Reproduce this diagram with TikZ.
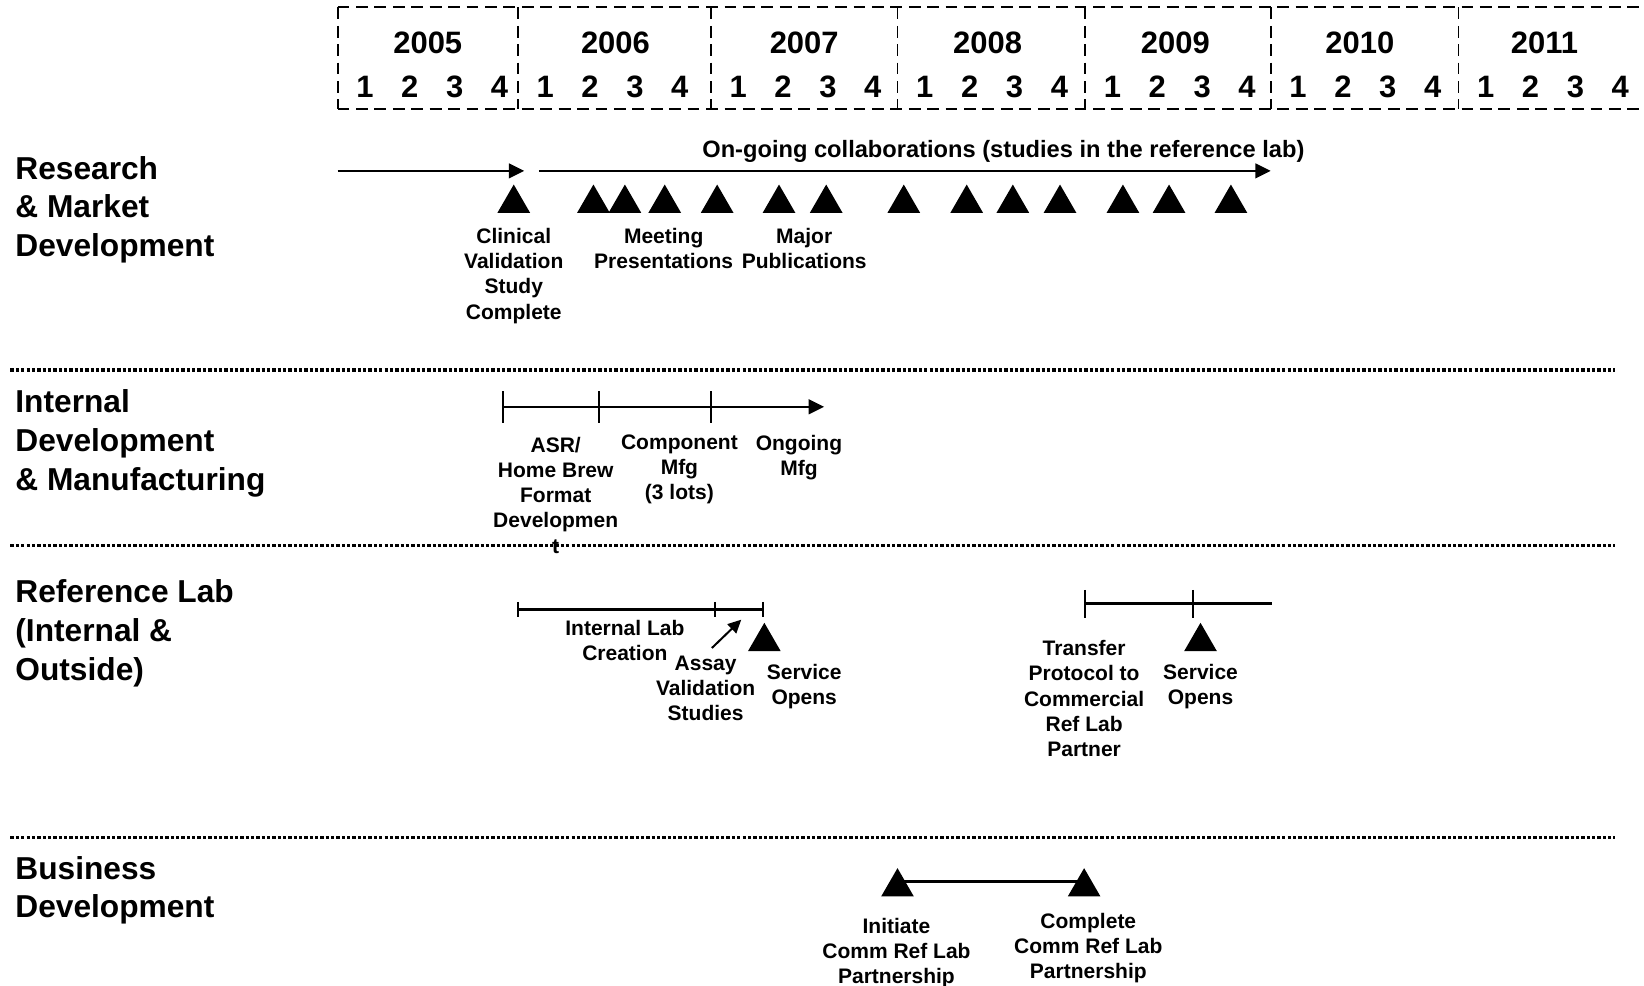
\documentclass[tikz,border=0pt]{standalone}
\usepackage{fontspec}
\setmainfont{Liberation Sans}
\usetikzlibrary{shapes,arrows.meta,calc}

\tikzset{
  yearbox/.style={line width=0.5pt, dash pattern=on 3.2pt off 1.8pt},
  rowsep/.style={line width=0.9pt, dash pattern=on 0.9pt off 0.55pt},
  year/.style={font=\fontsize{8.4}{10}\selectfont\bfseries, inner sep=0pt},
  rowlbl/.style={font=\fontsize{8.6}{10.5}\selectfont\bfseries, align=left, anchor=west, inner sep=0pt},
  lbl/.style={font=\fontsize{5.7}{6.85}\selectfont\bfseries, align=center, anchor=north, inner sep=0pt},
  tri/.style={regular polygon, regular polygon sides=3, fill=black, minimum size=0.36cm, inner sep=0pt},
  tl/.style={line width=0.55pt},
  tlthick/.style={line width=0.8pt},
  arr/.style={-{Triangle[length=4.2pt,width=4pt]}},
}

\begin{document}
\begin{tikzpicture}
    \useasboundingbox (0,0) rectangle (15.68,9.40);
    % years and quarters
    \draw [yearbox] (3.22,9.33) -- (15.75,9.33);
    \draw [yearbox] (3.22,8.36) -- (15.75,8.36);
    \foreach \yr/\xa/\xl in {2005/3.22/4.08, 2006/4.94/5.87, 2007/6.78/7.67, 2008/8.56/9.42, 2009/10.35/11.21, 2010/12.12/12.97, 2011/13.91/14.73} {
      \draw [yearbox] (\xa,9.33) -- (\xa,8.36);
      \node [year] (y\yr) at (\xl,8.99) {\yr};
      \foreach \q in {1,...,4}
        \node [year] (q\yr\q) at ({\xa+0.26+(\q-1)*0.428},8.57) {\q};
    }
    % row titles
    \node [rowlbl] (rm) at (0.14,7.40) {Research\\\& Market\\Development};
    \node [rowlbl] (idm) at (0.14,5.17) {Internal\\Development\\\& Manufacturing};
    \node [rowlbl] (rl) at (0.14,3.36) {Reference Lab\\(Internal \&\\Outside)};
    \node [rowlbl] (bd) at (0.14,0.91) {Business\\Development};
    \draw [rowsep] (0.10,5.87) -- (15.40,5.87);
    \draw [rowsep] (0.10,4.20) -- (15.40,4.20);
    \draw [rowsep] (0.10,1.41) -- (15.40,1.41);

    % research & market development
    \coordinate (rmA) at (3.22,7.77);
    \coordinate (rmB) at (5.00,7.77);
    \coordinate (rmC) at (5.14,7.77);
    \coordinate (rmD) at (12.12,7.77);
    \draw [tl,arr] (rmA) -- (rmB);
    \draw [tl,arr] (rmC) -- (rmD);
    \node [font=\fontsize{6.42}{7.5}\selectfont\bfseries, inner sep=0pt] (ongo) at (9.57,7.955) {On-going collaborations (studies in the reference lab)};
    \foreach \x [count=\i] in {4.90,5.66,5.96,6.34,6.84,7.43,7.88,8.62,9.22,9.66,10.11,10.71,11.15,11.74}
      \node [tri] (ev\i) at (\x,7.46) {};
    \node [lbl] (clin) at (4.90,7.23) {Clinical\\Validation\\Study\\Complete};
    \node [lbl] (meet) at (6.33,7.23) {Meeting\\Presentations};
    \node [lbl] (pubs) at (7.67,7.23) {Major\\Publications};

    % internal development & manufacturing
    \coordinate (mfA) at (4.80,5.52);
    \coordinate (mfB) at (5.71,5.52);
    \coordinate (mfC) at (6.78,5.52);
    \coordinate (mfD) at (7.86,5.52);
    \draw [tl,arr] (mfA) -- (mfD);
    \foreach \c in {mfA,mfB,mfC}
      \draw [tl] ($(\c)+(0,0.15)$) -- ($(\c)+(0,-0.15)$);
    \node [lbl] (asr) at (5.30,5.24) {ASR/\\Home Brew\\Format\\Developmen\\t};
    \node [lbl] (comp) at (6.48,5.26) {Component\\Mfg\\(3 lots)};
    \node [lbl] (ongm) at (7.62,5.26) {Ongoing\\Mfg};

    % reference lab, internal
    \coordinate (lbA) at (4.94,3.59);
    \coordinate (lbB) at (6.82,3.59);
    \coordinate (lbC) at (7.28,3.59);
    \draw [tlthick] (lbA) -- (lbC);
    \foreach \c in {lbA,lbB,lbC}
      \draw [tl] ($(\c)+(0,0.07)$) -- ($(\c)+(0,-0.07)$);
    \node [tri] (svA) at (7.29,3.28) {};
    \node [lbl] (intl) at (5.96,3.49) {Internal Lab\\Creation};
    \node [lbl] (assay) at (6.73,3.15) {Assay\\Validation\\Studies};
    \node [lbl] (opA) at (7.67,3.07) {Service\\Opens};
    \coordinate (avTail) at (6.79,3.22);
    \coordinate (avTip) at (7.07,3.49);
    \draw [tl,-{Triangle[length=3.6pt,width=3.4pt]}] (avTail) -- (avTip);

    % reference lab, outside
    \coordinate (crA) at (10.35,3.64);
    \coordinate (crB) at (11.38,3.64);
    \coordinate (crC) at (12.13,3.64);
    \draw [tlthick] (crA) -- (crC);
    \foreach \c in {crA,crB}
      \draw [tl] ($(\c)+(0,0.135)$) -- ($(\c)+(0,-0.135)$);
    \node [tri] (svB) at (11.45,3.28) {};
    \node [lbl] (xfer) at (10.34,3.30) {Transfer\\Protocol to\\Commercial\\Ref Lab\\Partner};
    \node [lbl] (opB) at (11.45,3.07) {Service\\Opens};

    % business development
    \node [tri] (bdA) at (8.56,0.94) {};
    \node [tri] (bdB) at (10.34,0.94) {};
    \draw [tlthick] ([yshift=0.05cm]bdA.center) -- ([yshift=0.05cm]bdB.center);
    \node [lbl] (init) at (8.55,0.65) {Initiate\\Comm Ref Lab\\Partnership};
    \node [lbl] (compl) at (10.38,0.70) {Complete\\Comm Ref Lab\\Partnership};
\end{tikzpicture}
\end{document}
